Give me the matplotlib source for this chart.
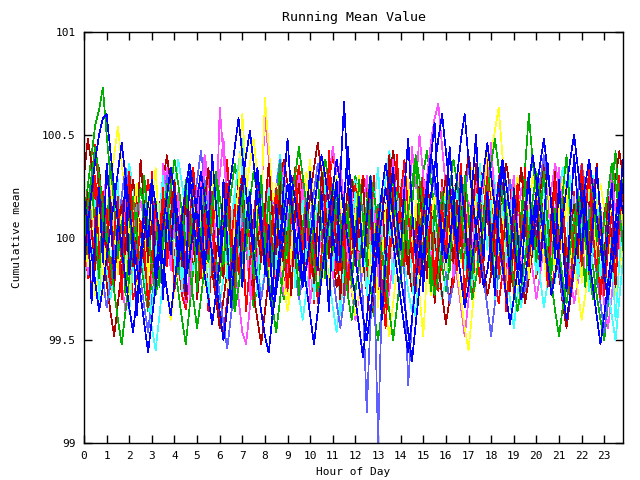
import matplotlib
matplotlib.use("Agg")
import matplotlib.pyplot as plt
import numpy as np

# samples every 10 minutes over the day
n_samples = 144
hours = np.arange(n_samples) / 6.0

# running mean per trace, stored as hundredths above/below 100
red_a = [-5, 12, 30, 45, 22, 8, -10, -25, -15, 5, 18, 10, -8, -30, -22, 0, 15, 28, 12, -6, -18, -4, 10, 20,
         8, -12, -28, -35, -20, 2, 14, 25, 18, 4, -10, -22, -40, -48, -30, -12, 6, 20, 32, 24, 10, -5, -15, -2,
         12, 26, 18, 2, -14, -26, -10, 8, 22, 35, 20, 6, -8, -20, -12, 4, 16, 28, 40, 30, 14, -2, -16, -8,
         6, 18, 30, 22, 8, -10, -22, -32, -18, -4, 10, 24, 14, 0, -14, -24, -12, 2, 16, 8, -6, -18, -26, -10,
         4, 16, 26, 12, -2, -16, -8, 6, 20, 34, 24, 10, -4, -20, -32, -18, -2, 12, 6, -8, -22, -12, 2, 18,
         28, 16, 2, -12, -26, -14, 0, 14, 26, 12, -4, -18, -8, 6, 20, 30, 18, 4, -10, -24, -16, 0, 12, 4]
green_a = [10, 25, 40, 55, 62, 73, 50, 30, 12, -5, -18, -8, 6, 20, 8, -10, -24, -36, -20, -4, 10, 24, 14, 0,
           -12, -26, -40, -52, -34, -16, 0, 14, 26, 18, 4, -10, -22, -8, 8, 22, 36, 24, 10, -6, -20, -34, -24, -10,
           4, 18, 10, -4, -18, -30, -16, 0, 14, 28, 16, 2, -12, -4, 10, 24, 38, 26, 12, -2, -16, -8, 6, 20,
           30, 18, 4, -10, -24, -38, -50, -36, -20, -6, 8, 22, 12, -2, -16, -6, 8, 20, 32, 42, 28, 14, 0, -14,
           -26, -14, 0, 14, 6, -8, -22, -10, 4, 18, 30, 20, 6, -8, -20, -12, 2, 16, 8, -6, 12, 34, 60, 38,
           18, 4, -10, 2, 16, 8, -6, -20, -32, -18, -4, 10, 24, 14, 0, -14, -28, -40, -50, -32, -14, 2, 16, 28]
blue_a = [-8, 6, 22, 38, 50, 58, 60, 42, 24, 8, -6, -20, -34, -46, -30, -14, 2, 16, 28, 16, 2, -12, -26, -38,
          -22, -6, 10, 24, 36, 24, 10, -4, -18, -30, -42, -28, -12, 4, 18, 30, 44, 58, 40, 22, 6, -8, -22, -36,
          -48, -56, -38, -20, -4, 12, 26, 16, 2, -12, -24, -14, 0, 14, 28, 40, 30, 16, 2, -12, 30, 66, 28, 8,
          -10, -24, -38, -50, -36, -20, -4, 10, 24, 12, -2, -16, -30, -44, -56, -40, -22, -6, 10, 26, 40, 30, 16, 2,
          -12, -2, 14, 30, 48, 60, 38, 20, 4, -10, -24, -16, -2, 12, 26, 38, 26, 12, -2, -16, -30, -20, -6, 8,
          22, 36, 48, 32, 16, 2, -12, -26, -40, -28, -14, 0, 14, 26, 38, 24, 10, -4, -18, -30, -16, 0, 14, 26]
magenta_a = [4, -10, -24, -14, 2, 18, 30, 20, 6, -8, -22, -36, -26, -12, 4, 18, 8, -6, -20, -10, 4, 20, 34, 22,
             8, -6, -20, -32, -18, -4, 12, 26, 40, 28, 14, 0, 63, 40, 18, 2, -14, -30, -46, -52, -34, -16, 0, 16,
             60, 38, 18, 2, -14, -28, -16, -2, 14, 30, 18, 4, -10, -24, -12, 2, 16, 30, 44, 30, 16, 2, -12, -26,
             -40, -28, -14, 0, 14, 4, -10, -24, -38, -26, -12, 2, 16, 30, 18, 4, -10, -2, 14, 30, 46, 58, 65, 44,
             24, 8, -6, -20, -34, -48, -30, -14, 0, 14, 28, 40, 26, 12, -2, -16, -30, -18, -4, 10, 24, 12, -2, -16,
             -30, -18, -4, 10, 24, 36, 24, 10, -4, -18, -32, -22, -8, 6, 20, 10, -4, -18, -32, -44, -28, -12, 4, 18]
cyan_a = [-20, -6, 8, 22, 12, -2, -16, -30, -18, -4, 10, 24, 36, 24, 10, -4, -18, -32, -44, -55, -38, -20, -4, 10,
          24, 38, 26, 12, -2, -16, -8, 6, 20, 10, -4, -18, -32, -20, -6, 8, 22, 36, 48, 30, 14, 0, -14, -28,
          -16, -2, 12, 26, 40, 28, 14, 0, -14, -28, -40, -26, -12, 2, 16, 8, -6, -20, -34, -46, -30, -14, 2, 16,
          28, 18, 4, -10, -24, -14, 0, 14, 28, 42, 30, 16, 2, -12, -26, -36, -22, -8, 6, 20, 10, -4, -18, -30,
          -20, -6, 8, 22, 12, -2, -16, -28, -16, -2, 12, 26, 38, 26, 12, -2, -16, -30, -44, -28, -12, 2, 16, 8,
          -6, -20, -34, -22, -8, 6, 20, 34, 22, 8, -6, -20, -10, 4, 18, 30, 18, 4, -10, -24, -38, -50, -30, -10]
yellow_a = [12, -2, -16, -28, -16, -2, 12, 26, 40, 54, 36, 18, 2, -12, -26, -14, 0, 14, 28, 16, 2, -12, -26, -40,
            -26, -12, 2, 16, 30, 18, 4, -10, -24, -12, 2, 16, 8, -6, -20, -34, -20, -6, 8, 22, 36, 48, 30, 14,
            68, 44, 22, 6, -8, -22, -36, -24, -10, 4, 18, 32, 20, 6, -8, -22, -12, 2, 16, 30, 18, 4, -10, -24,
            -38, -26, -12, 2, 16, 6, -8, -22, -36, -48, -32, -16, 0, 14, 28, 40, 28, 14, 0, -14, -28, -18, -4, 10,
            24, 12, -2, -16, -30, -44, -55, -36, -18, -2, 12, 26, 40, 52, 63, 40, 20, 4, -10, -24, -12, 2, 16, 30,
            18, 4, -10, -24, -14, 0, 14, 28, 16, 2, -12, -26, -40, -28, -14, 0, 14, 26, 14, 0, -14, -28, -16, -2]
darkred_a = [30, 48, 36, 20, 6, -8, -22, -36, -48, -32, -16, 0, 14, 28, 16, 2, -12, -26, -14, 0, 14, 28, 40, 26,
             12, -2, -16, -30, -20, -6, 8, 22, 12, -2, -16, -30, -44, -30, -16, -2, 12, 26, 14, 0, -14, -28, -40, -52,
             -36, -20, -4, 10, 24, 38, 26, 12, -2, -16, -8, 6, 20, 34, 46, 32, 18, 4, -10, -24, -14, 0, 14, 28,
             16, 2, -12, -26, -40, -28, -14, 0, 14, 28, 42, 30, 16, 2, -12, -26, -16, -2, 12, 26, 14, 0, -14, -28,
             -42, -30, -16, -2, 12, 26, 40, 28, 14, 0, -14, -28, -18, -4, 10, 24, 36, 24, 10, -4, -18, -32, -20, -6,
             8, 22, 36, 24, 10, -4, -18, -32, -44, -30, -16, -2, 12, 26, 16, 2, -12, -26, -14, 0, 14, 28, 42, 30]
slate_a = [-10, 4, 18, 8, -6, -20, -34, -22, -8, 6, 20, 34, 22, 8, -6, -20, -34, -46, -30, -14, 2, 16, 30, 18,
           4, -10, -24, -14, 0, 14, 28, 42, 28, 14, 0, -14, -28, -42, -54, -38, -22, -6, 8, 22, 12, -2, -16, -30,
           -18, -4, 10, 24, 38, 26, 12, -2, -16, -30, -20, -6, 8, 22, 36, 24, 10, -4, -18, -32, -44, -30, -16, -2,
           12, -10, -30, -85, -40, -20, -100, -30, -10, 8, 22, 10, -4, -18, -72, -40, -20, -6, 8, 22, 36, 24, 10, -4,
           -18, -32, -22, -8, 6, 20, 34, 22, 8, -6, -20, -34, -48, -32, -16, 0, 14, 28, 16, 2, -12, -26, -14, 0,
           14, 28, 40, 26, 12, -2, -16, -30, -20, -6, 8, 22, 36, 24, 10, -4, -18, -32, -46, -30, -14, 2, 16, 4]
green_b = [2, 16, 30, 44, 30, 16, 2, -12, -26, -40, -52, -36, -20, -4, 10, 24, 14, 0, -14, -28, -18, -4, 10, 24,
           38, 26, 12, -2, -16, -30, -44, -30, -14, 2, 16, 30, 20, 6, -8, -22, -36, -24, -10, 4, 18, 32, 22, 8,
           -6, -20, -34, -46, -30, -14, 2, 16, 30, 44, 30, 16, 2, -12, -26, -16, -2, 12, 26, 14, 0, -14, -28, -40,
           -26, -12, 2, 16, 30, 20, 6, -8, -22, -36, -50, -34, -18, -2, 12, 26, 40, 28, 14, 0, -14, -28, -18, -4,
           10, 24, 38, 26, 12, -2, -16, -30, -20, -6, 8, 22, 36, 48, 34, 20, 6, -8, -22, -36, -24, -10, 4, 18,
           32, 20, 6, -8, -22, -36, -48, -34, -20, -6, 8, 22, 12, -2, -16, -30, -20, -6, 8, 22, 36, 26, 12, -2]
blue_b = [20, 6, -8, -22, -36, -24, -10, 4, 18, 32, 46, 30, 14, 0, -14, -28, -42, -56, -40, -24, -8, 6, 20, 34,
          22, 8, -6, -20, -10, 4, 18, 32, 20, 6, -8, -22, -36, -50, -34, -18, -2, 12, 26, 40, 52, 36, 20, 4,
          -10, -24, -38, -26, -12, 2, 16, 30, 18, 4, -10, -24, -38, -52, -36, -20, -4, 10, 24, 38, 26, 12, -2, -16,
          -30, -44, -58, -40, -22, -6, 8, 22, 36, 24, 10, -4, -18, -32, -46, -60, -42, -24, -8, 6, 20, 34, 48, 60,
          42, 24, 8, -6, -20, -34, -24, -10, 4, 18, 32, 46, 30, 14, 0, -14, -28, -42, -30, -16, -2, 12, 26, 40,
          28, 14, 0, -14, -28, -18, -4, 10, 24, 38, 50, 34, 18, 4, -10, -24, -38, -52, -38, -22, -6, 8, 22, 12]
red_b = [15, -20, 5, 30, -10, 22, -8, 18, -25, 4, -30, 12, 26, -4, 20, -18, 8, -12, 32, 6, -22, 10, -6, 24,
         -14, 8, -28, 16, -2, 34, 10, -20, 4, -36, -8, 20, -16, 12, 38, 2, -24, 14, -10, 28, -4, -30, 6, 18,
         -12, 22, 0, -26, 14, 36, -6, 16, -20, 8, 30, -14, 4, -32, 10, 24, -8, 42, 12, -18, 6, -28, 20, -2,
         26, -10, 14, -22, 4, 30, -16, 10, -34, -6, 18, 40, 8, -14, 22, -4, -26, 12, 32, -8, 16, -20, 2, 28,
         -6, 20, -24, 10, 36, -2, 14, -30, 6, 24, -12, 40, 18, -8, 30, 4, -18, 12, -28, 22, 2, 34, -10, 16,
         -20, 8, 28, -12, 18, -4, 32, 10, -26, 6, 22, -16, 36, 14, -8, 26, -2, -30, 12, 20, -14, 8, 30, 4]
blue_c = [-15, 10, -32, 4, 24, -12, 36, 14, -20, 8, -6, 30, -18, 2, -38, -10, 16, -4, 26, -22, 6, -30, 12, -8,
          20, -14, 6, -26, 32, 10, -8, 24, -16, 4, 40, 16, -12, 28, -2, -34, -10, 14, -24, 8, 22, -6, 34, 12,
          -18, 6, -30, 16, -4, 26, 48, 20, -10, 4, -24, 12, 32, 6, -16, 22, -8, -36, 10, 28, -12, 18, 44, 16,
          -4, 20, -14, 8, 30, -20, 2, -40, -12, 16, 34, 10, -6, 24, 48, 14, -10, 6, -26, 18, 38, 56, 20, -8,
          12, 44, 18, -6, 30, 8, -16, 26, 50, 12, -10, 22, -4, -28, 14, 36, 6, -18, 24, 2, -22, 10, 32, -6,
          18, -14, 8, 36, 14, -10, 28, -4, -26, 10, 40, 16, -8, 20, -16, 6, 34, 12, -20, 4, 26, -10, 16, 38]
magenta_b = [8, -18, 14, -4, 26, -12, 6, 32, -20, 10, -8, 22, -26, 4, 16, -14, 30, 2, -22, 12, -6, 36, 10, -16,
             4, 22, -10, 14, -30, 6, 24, -4, 40, 18, -8, 12, 30, 48, 20, -6, 10, -18, 26, 2, -28, 8, -14, 20,
             -2, 28, 8, -22, 14, 34, 6, -14, 20, -8, 26, 4, -32, -12, 10, 24, -6, 16, -20, 2, 36, 14, -10, 22,
             6, -16, 12, 30, -4, 20, -24, 8, -10, 18, 38, 10, -8, 26, 4, 44, 24, 50, 30, 8, -12, 16, -2, 24,
             -8, 14, -20, 6, 28, -6, 18, -14, 32, 10, -4, 22, 46, 16, -10, 8, -26, 12, 30, 4, -18, 10, 26, -4,
             16, -12, 6, 24, -8, 14, 34, 10, -16, 4, 20, -6, 12, -24, 8, 28, -2, 16, -12, 6, 32, 12, -6, 20]
cyan_b = [-25, 6, -10, 18, -30, -4, 14, -22, 8, 28, -12, 4, -36, -14, 10, -6, 20, -18, -40, -8, 12, 30, -2, 16,
          -16, 6, -26, 12, 34, 4, -12, 20, -6, -32, 8, 26, -10, 14, -20, 2, 22, -8, 38, 10, -14, 6, -28, 18,
          -4, 24, 8, -18, 10, 30, -8, 14, -24, 2, 18, -12, 8, -30, -10, 12, 28, 4, -16, 10, -38, -12, 16, 6,
          22, -6, 12, -28, -8, 18, 34, 4, -14, 10, -22, 6, 26, -4, 14, -20, -40, -10, 8, 24, -6, 16, -18, 2,
          20, -8, 12, 30, 2, -16, 8, -24, 14, 36, 10, -6, 18, -30, -4, 16, -12, 8, 24, -10, -34, -8, 12, -2,
          -18, 10, 26, -4, 14, -22, 6, 20, -12, 30, 8, -16, 4, 18, -26, -6, 12, -20, 6, 22, -8, -40, -12, 10]
yellow_b = [5, -14, 22, -6, 12, -28, 8, 30, 4, -18, 16, -4, -30, 10, 26, -12, 6, -22, 14, 34, 2, -16, 8, -8,
            18, -10, 6, -24, 12, 28, -6, 14, -18, 4, 32, 10, -14, 20, -2, -30, 8, 24, 60, 30, 6, -12, 16, -4,
            10, -20, 6, 26, -8, 14, -30, -6, 18, 4, -16, 22, 38, 8, -12, 16, -4, -26, 10, 28, 2, -14, 20, -6,
            12, 30, -2, 16, -22, 6, -34, -12, 14, 24, -6, 10, -18, 4, 28, -10, 18, -28, -48, -16, 8, 20, -4, 12,
            -16, 6, 26, 4, -12, 18, -4, 34, 12, -20, 6, 46, 24, 8, -14, 10, -28, -6, 16, 30, -8, 12, -20, 4,
            22, -6, 10, 30, 4, -18, 14, -8, 26, -12, 6, 18, -22, 2, 28, 10, -10, 16, -26, 4, 14, -16, 20, 6]
darkred_b = [-10, 22, 4, -16, 34, 12, -6, 20, -24, 6, 16, -8, 26, -14, 2, 38, 14, -12, 8, -26, -4, 18, -10, 10,
             28, 4, -14, 22, -6, 10, -30, -8, 16, 34, 12, -10, 6, -20, 24, 2, -16, 12, 30, -4, 18, -24, 4, -12,
             14, 36, 10, -8, 22, -16, 4, -28, 12, 26, -6, 18, -2, -22, 8, 30, 14, -10, 20, -4, -30, 6, 24, 2,
             -14, 10, 28, -4, 16, -24, 6, 22, -10, 40, 14, -8, 24, 4, -18, 10, -6, 26, 2, -20, 12, -32, -6, 16,
             30, 6, -12, 18, -4, 22, -22, 8, 36, 12, -6, 20, -16, 4, 28, -8, 14, -26, -4, 18, 34, 8, -14, 10,
             -4, 24, 6, -16, 12, 32, -8, 20, -22, 4, 16, -10, 26, 2, -18, 14, 36, 8, -12, 20, -2, -24, 10, 22]
green_c = [12, -8, 26, 4, -20, 14, -2, 36, 16, -10, 8, -28, -6, 20, 2, -16, 30, 6, -12, 18, -24, 4, 26, -6,
           14, -18, 6, 28, -4, 16, -26, 2, 22, -12, 10, 32, 8, -14, 18, -8, -32, 4, 24, -6, 14, -20, 8, 30,
           -4, 20, -14, 8, 36, 12, -10, 24, -2, -28, 6, 18, -16, 10, 30, 4, -20, 12, -6, 26, 8, -12, 16, -24,
           2, 28, 10, -14, 22, -4, 16, -30, -10, 12, 34, 6, -18, 20, -8, 14, 38, 10, -12, 4, -26, 16, -2, 22,
           8, -16, 24, 2, -10, 30, 12, -20, 6, 18, -8, 26, 4, -24, 10, 34, 14, -6, 20, -14, 6, 28, -8, 16,
           -12, 10, 32, 6, -18, 14, -6, 22, 40, 12, -10, 20, -4, -24, 8, 26, -2, 14, -16, 6, 24, 42, 14, -6]
red_c = [-18, 4, -30, 10, 26, -8, 14, -22, 2, 20, -12, 6, 32, 10, -16, 8, -4, -34, -10, 16, -2, 24, -14, 6,
         -26, -4, 14, -16, 8, 30, 2, -20, 12, -8, 22, -30, -10, 6, 26, -4, 16, -18, 4, -36, -12, 10, 28, -6,
         12, -14, 6, 24, -10, 4, -26, 14, 34, 8, -6, 18, -20, 2, -32, -8, 16, 30, -2, 12, -16, 6, -28, 10,
         -4, 18, -12, 6, 28, -8, 14, -22, -44, -12, 10, -4, 20, 38, 12, -10, 4, -18, 24, -6, 10, -26, 2, 16,
         -10, 22, 4, -16, 10, -30, -6, 18, 2, -22, 12, 30, -4, 14, -18, 6, -36, -10, 8, 26, -2, 14, -12, 4,
         20, -8, 10, -24, 4, 28, -10, 14, -4, -30, 6, 18, -14, 8, 34, 2, -16, 10, -28, -6, 12, -20, 6, 26]

traces = [red_a, green_a, magenta_a, cyan_a, yellow_a, darkred_a, slate_a,
          red_b, magenta_b, cyan_b, yellow_b, darkred_b, green_c, red_c,
          green_b, blue_a, blue_c, blue_b]
colors = ["#ff0000", "#00b000", "#ff50ff", "#40ffff", "#ffff20", "#b00000", "#6060ff",
          "#ff0000", "#ff50ff", "#40ffff", "#ffff20", "#b00000", "#00b000", "#ff0000",
          "#00b000", "#0000ff", "#0000ff", "#0000ff"]

plt.rcParams["font.family"] = ["DejaVu Sans Mono"]
plt.rcParams["font.size"] = 8

fig = plt.figure(figsize=(6.4, 4.8), dpi=100)
ax = fig.add_axes([84 / 640, 1 - 443 / 480, (623 - 84) / 640, (443 - 32) / 480])

for vals, col in zip(traces, colors):
    ax.plot(hours, 100 + np.array(vals) / 100.0, color=col, lw=0.5, antialiased=False)

ax.set_xlim(0, 23.83)
ax.set_ylim(99, 101)
ax.set_xticks(range(24))
ax.set_yticks([99, 99.5, 100, 100.5, 101])
ax.set_yticklabels(["99", "99.5", "100", "100.5", "101"])
ax.tick_params(direction="in", top=True, right=True, length=6, width=1, pad=6)
for sp in ax.spines.values():
    sp.set_linewidth(1)

ax.set_title("Running Mean Value", pad=8)
ax.set_xlabel("Hour of Day", labelpad=4)
ax.set_ylabel("Cumulative mean", labelpad=14)

fig.savefig("out.png", dpi=100)
